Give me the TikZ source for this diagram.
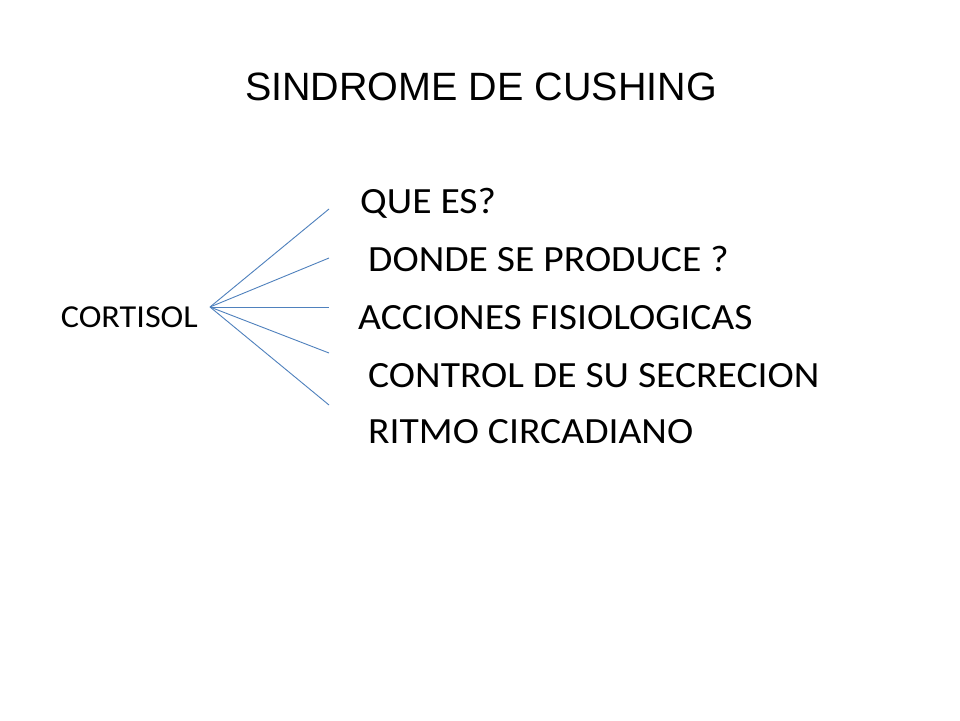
\documentclass[tikz,border=0pt]{standalone}
\usepackage{fontspec}
\setmainfont{Carlito}
\newfontfamily\itemfont[FakeStretch=1.07]{Carlito}
\newfontfamily\titlefont{Liberation Sans}
\definecolor{linkblue}{RGB}{79,129,189}
\begin{document}
\begin{tikzpicture}[x=1pt,y=-1pt,
  item/.style={anchor=base west,inner sep=0pt,font=\itemfont\fontsize{37}{42}\selectfont},
  link/.style={draw=linkblue,line width=0.9pt}]
\useasboundingbox[fill=white] (0,0) rectangle (960,720);
\node[anchor=base,inner sep=0pt,font=\titlefont\fontsize{39.5}{44}\selectfont] (title) at (481,100) {SINDROME DE CUSHING};
\node[anchor=base east,inner sep=0pt,font=\itemfont\fontsize{32}{36}\selectfont] (cort) at (198,327) {CORTISOL};
\node[item] (q1) at (360,213) {QUE ES?};
\node[item] (q2) at (368,271) {DONDE SE PRODUCE ?};
\node[item] (q3) at (358,329) {ACCIONES FISIOLOGICAS};
\node[item] (q4) at (368,387) {CONTROL DE SU SECRECION};
\node[item] (q5) at (368,443) {RITMO CIRCADIANO};
\coordinate (o) at (210,307);
\coordinate (e1) at (329,209);
\coordinate (e2) at (329,258);
\coordinate (e3) at (329,307);
\coordinate (e4) at (329,353);
\coordinate (e5) at (329,405);
\foreach \e in {e1,e2,e3,e4,e5} \draw[link] (o) -- (\e);
\end{tikzpicture}
\end{document}
